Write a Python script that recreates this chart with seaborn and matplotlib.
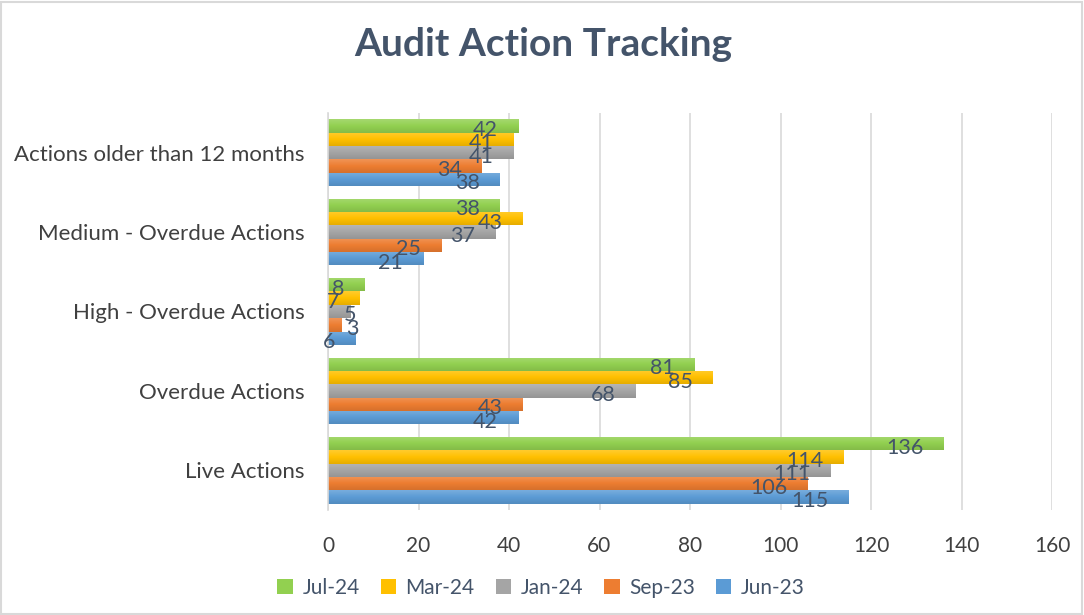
import matplotlib
matplotlib.use("Agg")
import matplotlib.pyplot as plt
import matplotlib.colors as mcolors
import numpy as np
import pandas as pd
import seaborn as sns

categories = ["Actions older than 12 months", "Medium - Overdue Actions",
              "High - Overdue Actions", "Overdue Actions", "Live Actions"]
series = ["Jul-24", "Mar-24", "Jan-24", "Sep-23", "Jun-23"]
jul24 = [42, 38, 8, 81, 136]
mar24 = [41, 43, 7, 85, 114]
jan24 = [41, 37, 5, 68, 111]
sep23 = [34, 25, 3, 43, 106]
jun23 = [38, 21, 6, 42, 115]
colors = ["#92D050", "#FFC000", "#A5A5A5", "#ED7D31", "#5B9BD5"]
xticks = [0, 20, 40, 60, 80, 100, 120, 140, 160]

values = {"Jul-24": jul24, "Mar-24": mar24, "Jan-24": jan24, "Sep-23": sep23, "Jun-23": jun23}
rows = []
for s in series:
    for c, v in zip(categories, values[s]):
        rows.append({"Category": c, "Series": s, "Value": v})
df = pd.DataFrame(rows)

sns.set_theme(style="white")
plt.rcParams["font.family"] = ["Lato", "DejaVu Sans"]

fig = plt.figure(figsize=(10.84, 6.15), dpi=100)
ax = fig.add_axes([328 / 1084, 1 - 510 / 615, (1052 - 328) / 1084, (510 - 113) / 615])

sns.barplot(data=df, y="Category", x="Value", hue="Series", order=categories,
            hue_order=series, palette=colors, orient="h", width=0.84, gap=0,
            ax=ax, legend=True, saturation=1, edgecolor="none")

# gradient shading on bars
def shade(c, f):
    r, g, b = mcolors.to_rgb(c)
    if f > 0:
        return (r + (1 - r) * f, g + (1 - g) * f, b + (1 - b) * f)
    return (r * (1 + f), g * (1 + f), b * (1 + f))

small_offsets = {5: (6, -4), 3: (17, -4)}

for container, col in zip(ax.containers, colors):
    top = shade(col, 0.18)
    bot = shade(col, -0.10)
    cmap = mcolors.LinearSegmentedColormap.from_list("g", [top, col, bot])
    grad = np.linspace(0, 1, 64).reshape(-1, 1)
    for patch in container.patches:
        x0, y0 = patch.get_x(), patch.get_y()
        w, h = patch.get_width(), patch.get_height()
        im = ax.imshow(grad, cmap=cmap, aspect="auto",
                       extent=(x0, x0 + w, y0 + h, y0), origin="upper", zorder=patch.get_zorder() + 0.1)
        im.set_clip_path(patch)
    for patch in container.patches:
        w = patch.get_width()
        yc = patch.get_y() + patch.get_height() / 2
        off = small_offsets.get(int(w), (-20, -4))
        ax.annotate(f"{int(w)}", xy=(w, yc), xytext=off, textcoords="offset pixels",
                    ha="right", va="center", fontsize=15.5, color="#44546A", zorder=5,
                    annotation_clip=False)

ax.set_xlim(0, 160)
ax.set_ylim(4.5, -0.5)
ax.set_xticks(xticks)
ax.set_xticklabels([str(t) for t in xticks])
ax.xaxis.grid(True, color="#D9D9D9", linewidth=1.2)
ax.set_axisbelow(True)
for sp in ["top", "right", "bottom"]:
    ax.spines[sp].set_visible(False)
ax.spines["left"].set_color("#D9D9D9")
ax.spines["left"].set_linewidth(1.2)
ax.set_xlabel("")
ax.set_ylabel("")
ax.tick_params(axis="x", labelsize=15, colors="#404040", length=0, pad=19)
ax.tick_params(axis="y", labelsize=16, colors="#404040", length=0, pad=17)

handles, labels = ax.get_legend_handles_labels()
ax.legend_.remove()
fig.legend(handles, labels, loc="center", bbox_to_anchor=(541 / 1084, 1 - 588 / 615),
           ncol=5, frameon=False, fontsize=15, handlelength=0.75, handleheight=0.75,
           handletextpad=0.45, columnspacing=1.0, labelcolor="#44546A")

fig.text(543 / 1084, 1 - 44 / 615, "Audit Action Tracking", ha="center", va="center",
         fontsize=28, fontweight="bold", color="#44546A")

fig.patches.append(plt.Rectangle((0.001, 0.002), 0.997, 0.995, transform=fig.transFigure,
                                 fill=False, edgecolor="#D9D9D9", linewidth=1.5))

fig.savefig("out.png", dpi=100)
